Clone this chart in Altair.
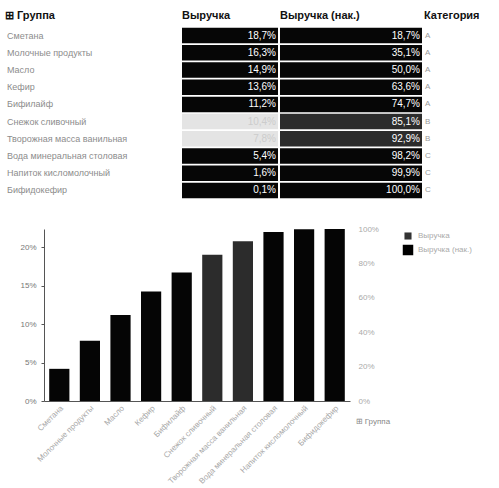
import altair as alt
import pandas as pd

groups = ["Сметана", "Молочные продукты", "Масло", "Кефир", "Бифилайф",
          "Снежок сливочный", "Творожная масса ванильная",
          "Вода минеральная столовая", "Напиток кисломолочный",
          "Бифидокефир"]
revenue = [18.7, 16.3, 14.9, 13.6, 11.2, 10.4, 7.8, 5.4, 1.6, 0.1]
cumulative = [18.7, 35.1, 50.0, 63.6, 74.7, 85.1, 92.9, 98.2, 99.9, 100.0]
category = ["A", "A", "A", "A", "A", "B", "B", "C", "C", "C"]
legend_items = ["Выручка", "Выручка (нак.)"]
left_ticks = [0, 5, 10, 15, 20]
right_ticks = [0, 20, 40, 60, 80, 100]

df = pd.DataFrame({"group": groups, "rev": revenue, "cum": cumulative, "cat": category})

FONT = "Liberation Sans"
N = len(groups)
ROW_H = 17.2
TABLE_H = ROW_H * N

base = alt.Chart(df).transform_calculate(
    rev_lbl="replace(format(datum.rev, '.1f'), '.', ',') + '%'",
    cum_lbl="replace(format(datum.cum, '.1f'), '.', ',') + '%'",
)

ysc = alt.Y("group:N", sort=groups, axis=None,
            scale=alt.Scale(paddingInner=0.1, paddingOuter=0.05))


def head(text):
    return alt.TitleParams(text, anchor="start", fontSize=11, fontWeight="bold",
                           font=FONT, color="#111111", offset=6)


is_b = "datum.cat == 'B'"

names = base.mark_text(align="left", baseline="middle", fontSize=9, font=FONT,
                       color="#8c8c8c").encode(
    x=alt.value(2), y=ysc, text="group:N"
).properties(width=175, height=TABLE_H, title=head("⊞ Группа"))

W_REV = 96
rev_col = alt.layer(
    base.mark_rect().encode(
        x=alt.value(0), x2=alt.value(W_REV), y=ysc,
        color=alt.condition(is_b, alt.value("#e4e4e4"), alt.value("#060606"))),
    base.mark_text(align="right", baseline="middle", dx=-2, fontSize=10, font=FONT).encode(
        x=alt.value(W_REV), y=ysc, text="rev_lbl:N",
        color=alt.condition(is_b, alt.value("#cccccc"), alt.value("#ffffff"))),
).properties(width=W_REV, height=TABLE_H, title=head("Выручка"))

W_CUM = 142
cum_col = alt.layer(
    base.mark_rect().encode(
        x=alt.value(0), x2=alt.value(W_CUM), y=ysc,
        color=alt.condition(is_b, alt.value("#2c2c2c"), alt.value("#060606"))),
    base.mark_text(align="right", baseline="middle", dx=-2, fontSize=10, font=FONT,
                   color="#ffffff").encode(
        x=alt.value(W_CUM), y=ysc, text="cum_lbl:N"),
).properties(width=W_CUM, height=TABLE_H, title=head("Выручка (нак.)"))

cat_col = base.mark_text(align="left", baseline="middle", fontSize=8, font=FONT,
                         color="#9a9a9a").encode(
    x=alt.value(1), y=ysc, text="cat:N"
).properties(width=70, height=TABLE_H, title=head("Категория"))

table = alt.hconcat(names, rev_col, cum_col, cat_col, spacing=2)

x_enc = alt.X("group:N", sort=groups,
              scale=alt.Scale(paddingInner=0.34, paddingOuter=0.17),
              axis=alt.Axis(labelAngle=-45, labelFontSize=8, labelColor="#a8a8a8",
                            labelFont=FONT, ticks=False, domainColor="#555555",
                            labelPadding=3, labelLimit=130,
                            title="⊞ Группа", titleX=311, titleY=16, titleAlign="left",
                            titleAnchor="start", titleFontSize=8, titleFontWeight="normal",
                            titleColor="#888888", titleFont=FONT))

rev_layer = base.mark_bar(opacity=0).encode(
    x=x_enc,
    y=alt.Y("rev:Q", title=None,
            scale=alt.Scale(domain=[0, 22.4], nice=False),
            axis=alt.Axis(orient="left", values=left_ticks, labelExpr="datum.value + '%'",
                          grid=False, tickSize=3, tickColor="#555555", domainColor="#555555",
                          labelFontSize=8, labelColor="#777777", labelFont=FONT,
                          labelPadding=5, minExtent=38)),
)
cum_layer = base.mark_bar().encode(
    x=x_enc,
    y=alt.Y("cum:Q", title=None,
            scale=alt.Scale(domain=[0, 100], nice=False),
            axis=alt.Axis(orient="right", values=right_ticks, labelExpr="datum.value + '%'",
                          grid=False, ticks=False, domain=False,
                          labelFontSize=8, labelColor="#aaaaaa", labelFont=FONT,
                          labelPadding=8)),
    color=alt.condition(is_b, alt.value("#2c2c2c"), alt.value("#050505")),
)
bars = alt.layer(rev_layer, cum_layer).resolve_scale(y="independent").properties(
    width=306, height=172)

# empty spacer so the bar chart's axis labels sit inside the column, not left of it
spacer = alt.Chart(pd.DataFrame({"s": [""]})).mark_text().encode(
    text="s:N").properties(width=1, height=10)

leg_df = pd.DataFrame({"s": legend_items})
leg_y = alt.Y("s:N", sort=legend_items, axis=None)
legend = alt.layer(
    alt.Chart(leg_df).mark_square(opacity=1).encode(
        y=leg_y, x=alt.value(18),
        size=alt.Size("s:N", scale=alt.Scale(domain=legend_items, range=[50, 110]), legend=None),
        color=alt.Color("s:N", scale=alt.Scale(domain=legend_items, range=["#333333", "#000000"]),
                        legend=None)),
    alt.Chart(leg_df).mark_text(align="left", baseline="middle", fontSize=8, font=FONT,
                                color="#aaaaaa").encode(
        y=leg_y, x=alt.value(28), text="s:N"),
).properties(width=80, height=28)

bottom = alt.hconcat(spacer, bars, legend, spacing=0).resolve_scale(
    color="independent", size="independent")

chart = alt.vconcat(table, bottom, spacing=26).properties(
    padding={"left": 5, "top": 10, "right": 0, "bottom": 0}
).configure_view(stroke=None)

chart.save("out.html", embed_options={"renderer": "svg", "actions": False})
